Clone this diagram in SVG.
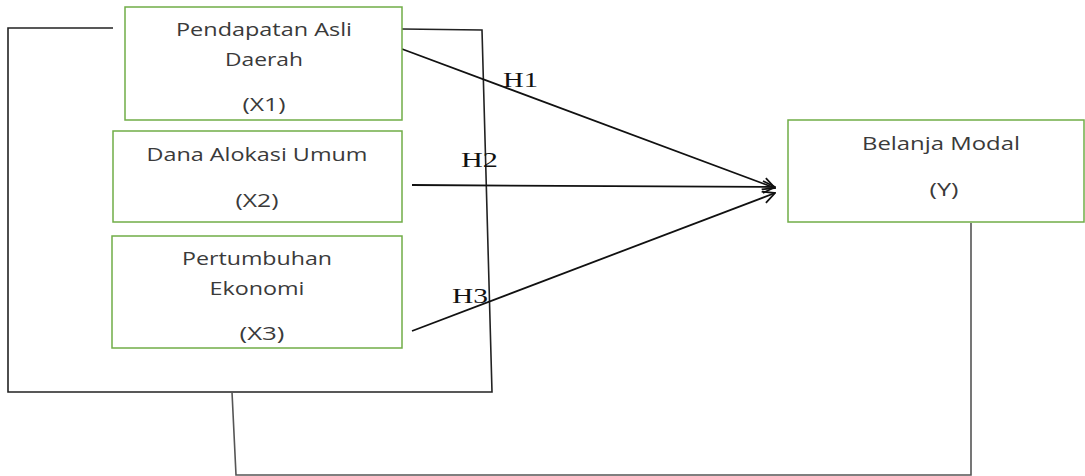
<svg xmlns="http://www.w3.org/2000/svg" width="1085" height="476" viewBox="0 0 1085 476">
<style>
.box{fill:#fff;stroke:#70ad47;stroke-width:1.5}
.t{font-family:"Open Sans","Liberation Sans",Arial,sans-serif;font-size:17.5px;fill:#3a3a3a;text-anchor:middle}
.h{font-family:"Liberation Serif","Times New Roman",serif;font-size:22px;fill:#111}
.ln{fill:none;stroke:#222;stroke-width:1.6}
.gl{fill:none;stroke:#555;stroke-width:1.6}
.ar{fill:none;stroke:#111;stroke-width:1.8}
</style>
<defs>
<marker id="arr" viewBox="0 0 14 14" refX="13" refY="7" markerWidth="14" markerHeight="14" markerUnits="userSpaceOnUse" orient="auto">
<path d="M1,1 L13,7 L1,13" fill="none" stroke="#111" stroke-width="1.8"/>
</marker>
</defs>
<g id="connectors">
<polyline class="ln" points="113,28 8,28 8,392 492,392 482,30 402,29"/>
<polyline class="gl" points="232,392 236,475 971,475 971,223"/>
<line class="ar" x1="402" y1="49" x2="775" y2="188" marker-end="url(#arr)"/>
<line class="ar" x1="412" y1="185" x2="775" y2="187" marker-end="url(#arr)"/>
<line class="ar" x1="412" y1="331" x2="775" y2="193" marker-end="url(#arr)"/>
<text class="h" x="503" y="87" textLength="35" lengthAdjust="spacingAndGlyphs">H1</text>
<text class="h" x="461" y="167" textLength="37" lengthAdjust="spacingAndGlyphs">H2</text>
<text class="h" x="452" y="303" textLength="36" lengthAdjust="spacingAndGlyphs">H3</text>
</g>
<g id="x1">
<rect class="box" x="125" y="7" width="277" height="113"/>
<text class="t" x="264" y="36" textLength="176" lengthAdjust="spacingAndGlyphs">Pendapatan Asli</text>
<text class="t" x="264" y="66" textLength="78" lengthAdjust="spacingAndGlyphs">Daerah</text>
<text class="t" x="264" y="111" textLength="43" lengthAdjust="spacingAndGlyphs">(X1)</text>
</g>
<g id="x2">
<rect class="box" x="113" y="131" width="289" height="91"/>
<text class="t" x="257" y="161" textLength="221" lengthAdjust="spacingAndGlyphs">Dana Alokasi Umum</text>
<text class="t" x="257" y="207" textLength="43" lengthAdjust="spacingAndGlyphs">(X2)</text>
</g>
<g id="x3">
<rect class="box" x="112" y="236" width="290" height="112"/>
<text class="t" x="257" y="265" textLength="150" lengthAdjust="spacingAndGlyphs">Pertumbuhan</text>
<text class="t" x="257" y="295" textLength="95" lengthAdjust="spacingAndGlyphs">Ekonomi</text>
<text class="t" x="262" y="340" textLength="45" lengthAdjust="spacingAndGlyphs">(X3)</text>
</g>
<g id="y">
<rect class="box" x="788" y="120" width="296" height="102"/>
<text class="t" x="941" y="150" textLength="158" lengthAdjust="spacingAndGlyphs">Belanja Modal</text>
<text class="t" x="944" y="196" textLength="29" lengthAdjust="spacingAndGlyphs">(Y)</text>
</g>
</svg>
